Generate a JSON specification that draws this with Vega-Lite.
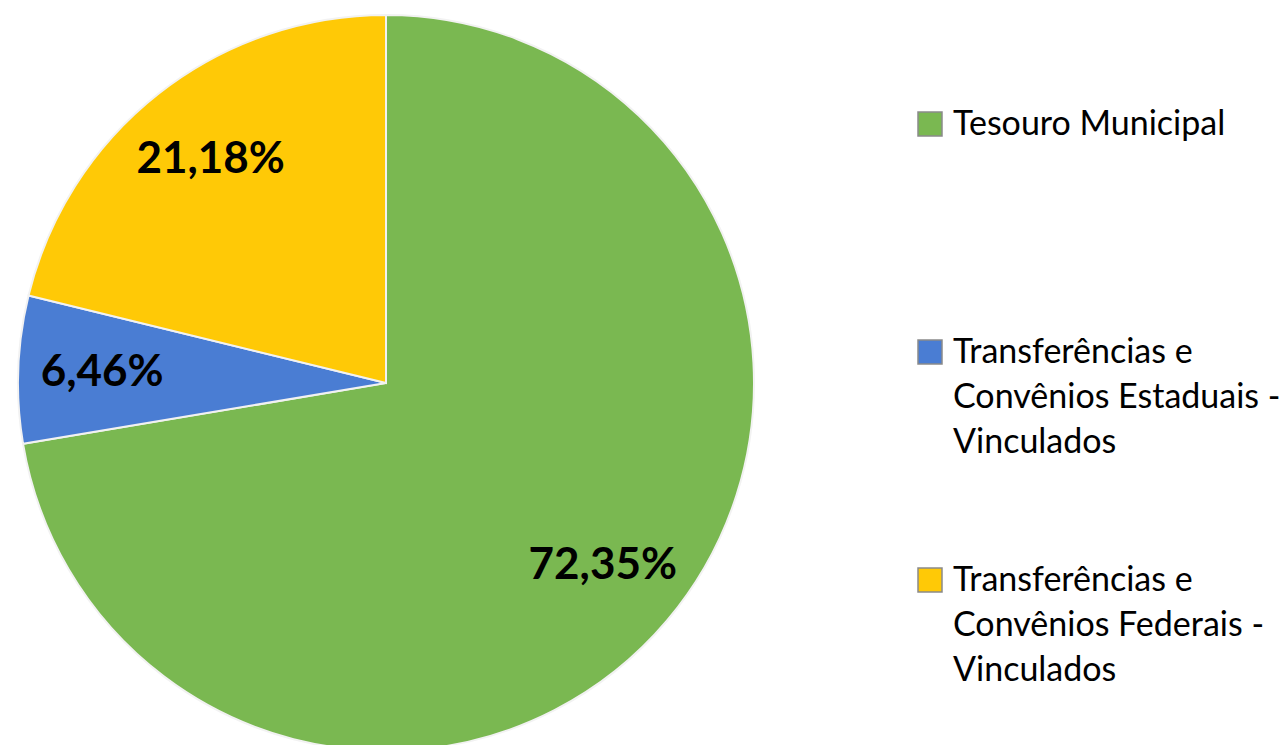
{
  "$schema": "https://vega.github.io/schema/vega-lite/v6.json",
  "width": 772,
  "height": 734,
  "padding": {"top": 11, "left": 0, "right": 0, "bottom": 0},
  "background": "white",
  "config": {"view": {"stroke": null}, "font": "Lato"},
  "data": {
    "values": [
      {"fonte": "Tesouro Municipal", "valor": 72.35, "rotulo": "72,35%", "ord": 1},
      {"fonte": "Transferências e|Convênios Estaduais -|Vinculados", "valor": 6.46, "rotulo": "6,46%", "ord": 2},
      {"fonte": "Transferências e|Convênios Federais -|Vinculados", "valor": 21.18, "rotulo": "21,18%", "ord": 3}
    ]
  },
  "encoding": {
    "theta": {"field": "valor", "type": "quantitative", "stack": true},
    "order": {"field": "ord", "type": "quantitative"},
    "color": {
      "field": "fonte",
      "type": "nominal",
      "sort": null,
      "scale": {
        "domain": ["Tesouro Municipal", "Transferências e|Convênios Estaduais -|Vinculados", "Transferências e|Convênios Federais -|Vinculados"],
        "range": ["#7AB851", "#4A7DD3", "#FFC906"]
      },
      "legend": {
        "title": null,
        "orient": "none",
        "legendX": 913,
        "legendY": 91,
        "symbolType": "square",
        "symbolSize": 576,
        "symbolStrokeColor": "#8a8a8a",
        "symbolStrokeWidth": 1.5,
        "labelFont": "Lato",
        "labelFontSize": 34,
        "labelColor": "#000000",
        "labelOffset": 6,
        "labelLimit": 400,
        "labelBaseline": "top",
        "gridAlign": "all",
        "rowPadding": 103,
        "labelExpr": "split(datum.label, '|')",
        "encode": {"labels": {"update": {"lineHeight": {"value": 45}, "dy": {"value": -16}}}}
      }
    }
  },
  "layer": [
    {
      "mark": {"type": "arc", "outerRadius": 368, "stroke": "#f2f2f2", "strokeWidth": 2}
    },
    {
      "mark": {"type": "text", "radius": 284, "font": "Lato", "fontSize": 44, "fontWeight": "bold"},
      "encoding": {
        "text": {"field": "rotulo", "type": "nominal"},
        "color": {"value": "#000000"}
      }
    }
  ]
}
